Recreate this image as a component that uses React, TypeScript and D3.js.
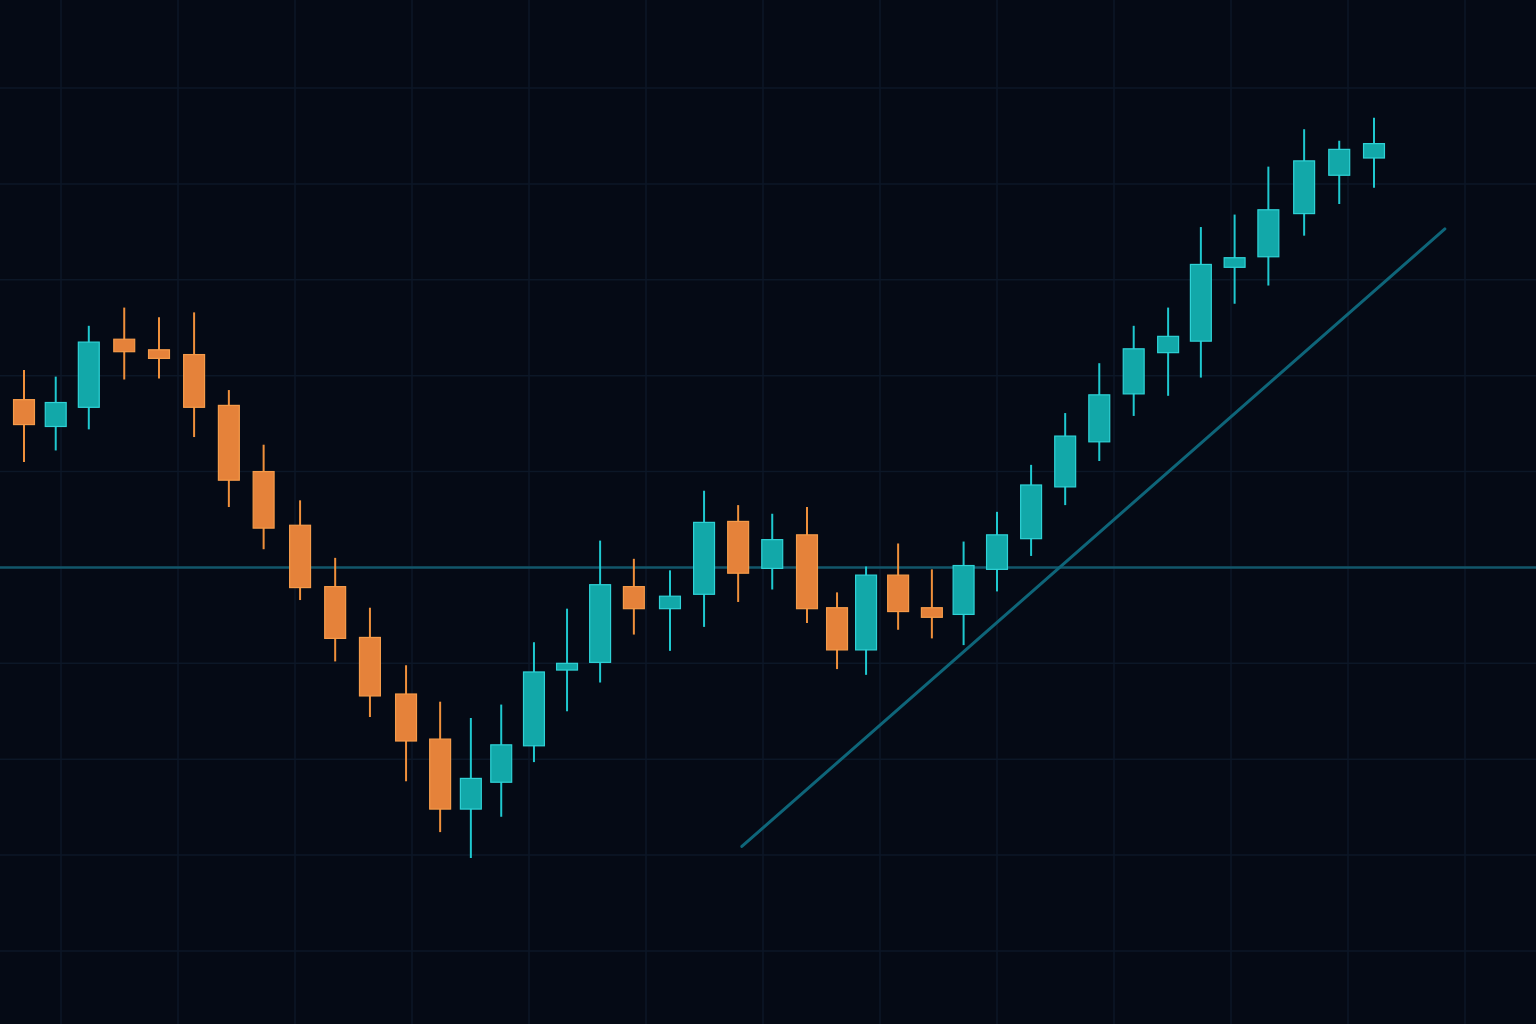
import React from 'react';
import * as d3 from 'd3';

// bar times (sessions are not evenly spaced)
const times = [0, 0.94, 1.92, 2.97, 4.0, 5.04, 6.07, 7.1, 8.18, 9.22, 10.25, 11.32, 12.33, 13.24, 14.14, 15.11, 16.09, 17.07, 18.07, 19.14, 20.15, 21.16, 22.17, 23.2, 24.09, 24.95, 25.9, 26.9, 27.84, 28.83, 29.84, 30.85, 31.86, 32.88, 33.9, 34.87, 35.87, 36.87, 37.93, 38.97, 40.0];

// OHLC series
const opens = [117.5, 114.7, 116.7, 123.8, 122.7, 122.2, 116.9, 110.0, 104.4, 98.0, 92.7, 86.8, 82.1, 74.8, 77.6, 81.4, 89.3, 90.1, 98.0, 95.7, 97.2, 104.8, 99.9, 103.4, 95.8, 91.4, 99.2, 95.8, 95.1, 99.8, 103.0, 108.4, 113.1, 118.1, 122.4, 123.6, 131.3, 132.4, 136.9, 140.9, 142.7];
const highs = [120.6, 119.9, 125.2, 127.1, 126.1, 126.6, 118.5, 112.8, 107.0, 101.0, 95.8, 89.8, 86.0, 84.3, 85.7, 92.2, 95.7, 102.8, 100.9, 99.7, 108.0, 106.5, 105.6, 106.3, 97.4, 100.1, 102.5, 99.8, 102.7, 105.8, 110.7, 116.1, 121.3, 125.2, 127.1, 135.5, 136.8, 141.8, 145.7, 144.5, 146.9];
const lows = [111.0, 112.2, 114.4, 119.6, 119.7, 113.6, 106.3, 101.9, 96.6, 90.2, 84.4, 77.7, 72.4, 69.7, 74.0, 79.7, 85.0, 88.0, 93.0, 91.3, 93.8, 96.4, 97.7, 94.2, 89.4, 88.8, 93.5, 92.6, 91.9, 97.5, 101.2, 106.5, 111.1, 115.8, 117.9, 119.8, 127.5, 129.4, 134.6, 137.9, 139.6];
const closes = [114.9, 117.2, 123.5, 122.5, 121.8, 116.7, 109.1, 104.1, 97.9, 92.6, 86.6, 81.9, 74.8, 78.0, 81.5, 89.1, 90.0, 98.2, 95.7, 97.0, 104.7, 99.4, 102.9, 95.7, 91.4, 99.2, 95.4, 94.8, 100.2, 103.4, 108.6, 113.7, 118.0, 122.8, 124.1, 131.6, 132.3, 137.3, 142.4, 143.6, 144.2];

// horizontal level and trend line (time, price)
const levelPrice = 100;
const trendTime = [21.27, 42.1];
const trendPrice = [70.9, 135.3];

const priceTicks = d3.range(60, 151, 10);

const W = 1536;
const H = 1024;

const BG = '#050a15';
const GRID = '#0c1727';
const UP_FILL = '#12a8a9';
const UP_EDGE = '#2fd2d6';
const UP_WICK = '#1fc9d0';
const DOWN_FILL = '#e5823a';
const DOWN_EDGE = '#f59b4a';
const DOWN_WICK = '#f0903b';

export default function App() {
    const x = d3.scaleLinear().domain([0, 40]).range([24, 1374]);
    const y = d3.scaleLinear().domain([60, 150]).range([951, 88]);
    const bodyW = (x(1) - x(0)) * 0.62;

    // vertical grid is a fixed background pattern
    const gridX = d3.range(61, W, 117);

    const trendLine = d3.line<number>()
        .x((d) => x(d))
        .y((_, i) => y(trendPrice[i]));

    return (
        <svg width={W} height={H} style={{ position: 'absolute', left: 0, top: 0, display: 'block' }}>
            <rect width={W} height={H} fill={BG} />
            <g>
                {gridX.map((gx) => (
                    <line key={'vx' + gx} x1={gx} x2={gx} y1={0} y2={H} stroke={GRID} strokeWidth={1.5} />
                ))}
                {priceTicks.map((t) => (
                    <line key={'hy' + t} x1={0} x2={W} y1={y(t)} y2={y(t)} stroke={GRID} strokeWidth={1.5} />
                ))}
            </g>
            <line x1={0} x2={W} y1={y(levelPrice)} y2={y(levelPrice)} stroke="#12566a" strokeWidth={2.5} />
            <path d={trendLine(trendTime) || ''} fill="none" stroke="#0e6579" strokeWidth={3} strokeLinecap="round" />
            <g>
                {opens.map((o, i) => {
                    const c = closes[i];
                    const up = c >= o;
                    const cx = x(times[i]);
                    const top = y(Math.max(o, c));
                    const bot = y(Math.min(o, c));
                    return (
                        <g key={i}>
                            <line x1={cx} x2={cx} y1={y(highs[i])} y2={y(lows[i])} stroke={up ? UP_WICK : DOWN_WICK} strokeWidth={2} />
                            <rect x={cx - bodyW / 2} y={top} width={bodyW} height={Math.max(bot - top, 2)}
                                fill={up ? UP_FILL : DOWN_FILL} stroke={up ? UP_EDGE : DOWN_EDGE} strokeWidth={1.2} />
                        </g>
                    );
                })}
            </g>
        </svg>
    );
}
